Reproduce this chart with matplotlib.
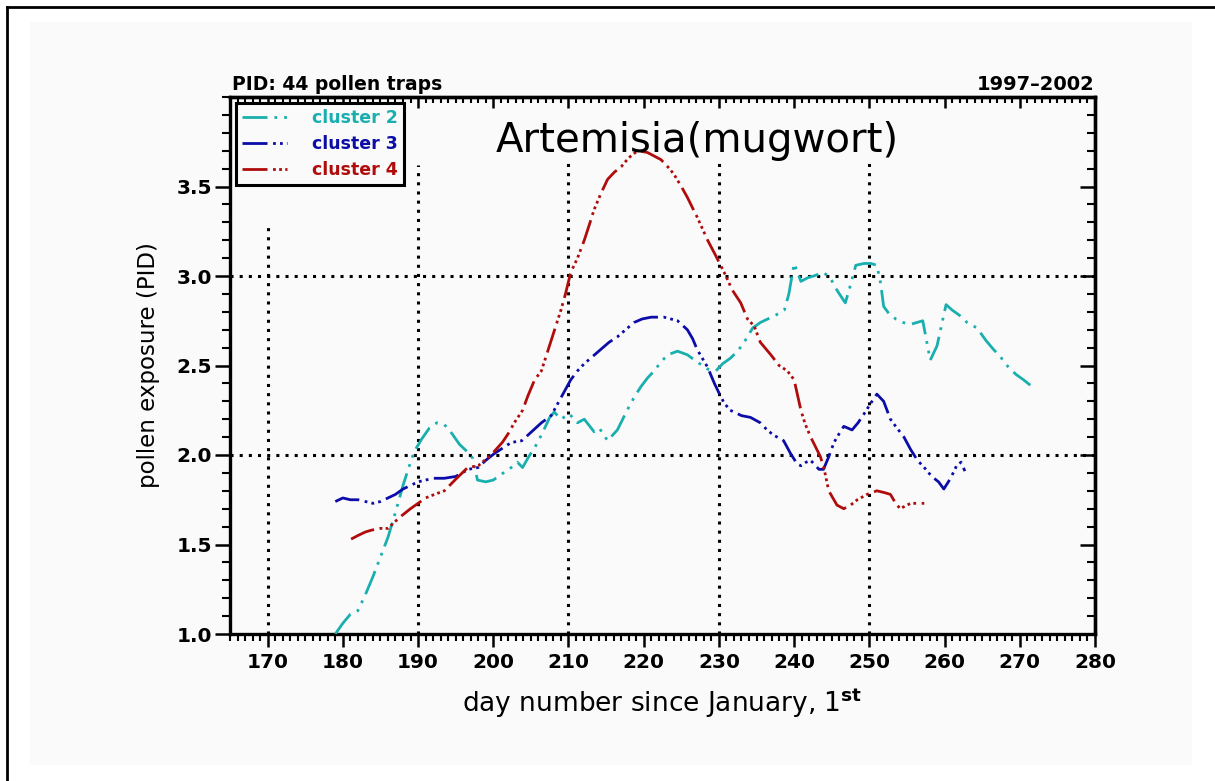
import matplotlib
matplotlib.use("Agg")
import matplotlib.pyplot as plt
from matplotlib.lines import Line2D
from matplotlib.patches import Rectangle
from matplotlib.ticker import MultipleLocator

# --- data: day number vs pollen exposure (PID) ---
days_c2 = [179.0, 180.0, 181.0, 182.0, 183.0, 184.0, 185.0, 186.0, 187.0, 188.0,
           189.0, 189.5, 190.5, 191.5, 192.5, 193.5, 194.5, 195.5, 196.5, 197.3,
           197.9, 199.0, 200.0, 201.0, 202.4, 203.2, 203.9, 204.7, 205.5, 206.5,
           207.5, 208.1, 209.0, 210.1, 211.2, 212.1, 213.4, 214.1, 215.2, 216.5,
           217.8, 218.7, 219.6, 220.5, 221.4, 222.3, 223.2, 224.5, 225.8, 227.1,
           228.5, 229.6, 230.5, 231.5, 232.5, 233.5, 234.5, 235.5, 236.5, 237.5,
           238.7, 239.3, 240.0, 240.9, 241.8, 242.6, 243.9, 244.8, 245.7, 246.8,
           247.3, 248.2, 249.3, 250.2, 251.0, 251.5, 251.9, 252.6, 253.5, 254.5,
           255.5, 256.3, 257.1, 258.1, 259.0, 260.2, 261.0, 262.0, 263.0, 264.3,
           265.5, 266.5, 267.4, 268.5, 269.5, 270.5, 271.4]
pid_c2 = [1.00, 1.06, 1.11, 1.13, 1.22, 1.32, 1.43, 1.54, 1.68, 1.83,
          1.96, 2.02, 2.09, 2.15, 2.18, 2.17, 2.12, 2.06, 2.02, 1.98,
          1.86, 1.85, 1.86, 1.89, 1.93, 1.96, 1.93, 1.99, 2.04, 2.12,
          2.21, 2.24, 2.20, 2.23, 2.18, 2.20, 2.13, 2.15, 2.08, 2.14,
          2.25, 2.32, 2.38, 2.43, 2.47, 2.52, 2.56, 2.58, 2.56, 2.52,
          2.48, 2.47, 2.51, 2.54, 2.58, 2.64, 2.71, 2.74, 2.76, 2.78,
          2.81, 2.90, 3.07, 2.97, 2.99, 3.00, 3.02, 2.99, 2.92, 2.85,
          2.92, 3.06, 3.07, 3.07, 3.06, 2.96, 2.83, 2.79, 2.76, 2.74,
          2.73, 2.74, 2.75, 2.53, 2.61, 2.84, 2.81, 2.78, 2.74, 2.71,
          2.64, 2.59, 2.55, 2.49, 2.45, 2.42, 2.39]

days_c3 = [179.0, 180.0, 181.0, 182.0, 183.0, 184.0, 185.0, 186.0, 187.0, 188.0,
           189.0, 190.0, 191.0, 192.0, 193.5, 195.0, 196.7, 198.0, 199.0, 200.2,
           201.3, 202.4, 203.8, 205.1, 206.4, 207.7, 209.0, 210.3, 211.2, 212.1,
           213.2, 214.3, 215.4, 216.5, 217.6, 218.7, 219.8, 221.0, 222.0, 222.7,
           223.6, 224.5, 225.8, 226.5, 227.1, 228.5, 229.4, 230.2, 230.7, 231.5,
           232.0, 233.0, 234.2, 235.5, 236.4, 237.3, 238.2, 238.6, 239.5, 240.4,
           240.9, 241.6, 242.2, 243.3, 243.9, 244.6, 245.3, 246.0, 246.6, 247.7,
           248.5, 249.3, 250.2, 251.0, 251.9, 252.8, 253.5, 254.6, 255.5, 256.4,
           257.3, 258.3, 259.2, 259.9, 260.8, 261.6, 262.2, 262.7]
pid_c3 = [1.74, 1.76, 1.75, 1.75, 1.74, 1.73, 1.74, 1.76, 1.78, 1.81,
          1.83, 1.85, 1.86, 1.87, 1.87, 1.88, 1.92, 1.93, 1.97, 2.01,
          2.04, 2.07, 2.08, 2.13, 2.18, 2.22, 2.32, 2.42, 2.47, 2.51,
          2.55, 2.59, 2.63, 2.66, 2.70, 2.74, 2.76, 2.77, 2.77, 2.77,
          2.76, 2.75, 2.70, 2.65, 2.59, 2.49, 2.40, 2.33, 2.29, 2.25,
          2.24, 2.22, 2.21, 2.18, 2.14, 2.11, 2.09, 2.08, 2.01, 1.95,
          1.94, 1.96, 1.97, 1.92, 1.92, 1.99, 2.07, 2.12, 2.16, 2.14,
          2.18, 2.23, 2.29, 2.34, 2.30, 2.20, 2.16, 2.10, 2.03, 1.97,
          1.93, 1.88, 1.85, 1.81, 1.87, 1.94, 1.96, 1.91]

days_c4 = [181.1, 182.0, 183.0, 183.8, 185.0, 186.0, 187.0, 187.8, 189.0, 190.0,
           191.0, 192.2, 193.5, 194.9, 196.6, 198.0, 199.7, 201.2, 202.0, 202.8,
           203.9, 204.6, 205.5, 206.4, 207.7, 209.0, 209.6, 210.3, 211.2, 212.1,
           212.8, 213.4, 214.3, 215.2, 216.1, 217.0, 218.0, 219.2, 220.5, 221.4,
           222.3, 223.2, 224.0, 225.0, 225.8, 226.5, 227.1, 228.5, 229.5, 230.7,
           231.8, 232.9, 233.8, 234.7, 235.5, 236.9, 238.0, 239.1, 240.0, 240.9,
           241.5, 242.2, 243.5, 244.0, 244.6, 245.7, 246.6, 247.5, 248.4, 249.7,
           251.0, 252.0, 252.8, 253.5, 254.1, 255.0, 255.5, 256.8, 257.3]
pid_c4 = [1.53, 1.55, 1.57, 1.58, 1.59, 1.59, 1.63, 1.66, 1.70, 1.73,
          1.76, 1.78, 1.80, 1.86, 1.93, 1.94, 2.00, 2.07, 2.12, 2.18,
          2.25, 2.33, 2.42, 2.47, 2.64, 2.81, 2.90, 3.02, 3.10, 3.20,
          3.29, 3.37, 3.46, 3.54, 3.58, 3.61, 3.66, 3.70, 3.69, 3.67,
          3.65, 3.61, 3.57, 3.50, 3.44, 3.38, 3.33, 3.20, 3.12, 3.02,
          2.92, 2.85, 2.76, 2.72, 2.63, 2.56, 2.50, 2.47, 2.42, 2.25,
          2.17, 2.10, 1.99, 1.92, 1.80, 1.72, 1.70, 1.72, 1.75, 1.78,
          1.80, 1.79, 1.78, 1.73, 1.70, 1.72, 1.73, 1.73, 1.73]

labels = ['cluster 2', 'cluster 3', 'cluster 4']
colors = ['#1aafaf', '#0c0ca8', '#b00c0c']

# dotted guide lines (day, top of line)
vgrid_days = [170, 190, 210, 230, 250]
vgrid_tops = [3.28, 3.62, 3.65, 3.65, 3.65]
hgrid_vals = [2.0, 3.0]

# ---------------------------------------------------------------------
fig = plt.figure(figsize=(12.15, 7.81), dpi=100, facecolor='white')

# light panel + black frame lines (left and top edges)
fig.add_artist(Rectangle((30 / 1215, 1 - 765 / 781), 1162 / 1215, 743 / 781,
                         transform=fig.transFigure, facecolor='#fafafa',
                         edgecolor='none', zorder=0))
fig.add_artist(Line2D([7 / 1215, 7 / 1215], [0, 1 - 7 / 781],
                      transform=fig.transFigure, color='black', lw=2))
fig.add_artist(Line2D([7 / 1215, 1], [1 - 7 / 781, 1 - 7 / 781],
                      transform=fig.transFigure, color='black', lw=2))

ax = fig.add_axes([230 / 1215, 1 - 634 / 781, 865 / 1215, 537 / 781])
ax.set_facecolor('none')

ax.set_xlim(165, 280)
ax.set_ylim(1.0, 4.0)

# grid
for d, top in zip(vgrid_days, vgrid_tops):
    ax.plot([d, d], [1.0, top], color='black', lw=2.2, ls=(0, (1, 2)), zorder=1)
for v in hgrid_vals:
    ax.axhline(v, color='black', lw=2.2, ls=(0, (1, 2)), zorder=1)

# curves
styles = [(0, (9, 2.5, 1, 2.5, 1, 2.5)),
          (0, (9, 2, 1, 1.5, 1, 1.5, 1, 2)),
          (0, (9, 2, 1, 1.2, 1, 1.2, 1, 1.2, 1, 2))]
series = [(days_c2, pid_c2), (days_c3, pid_c3), (days_c4, pid_c4)]
for (x, y), lab, c, ls in zip(series, labels, colors, styles):
    ax.plot(x, y, color=c, lw=2.0, ls=ls, label=lab, zorder=3)

# axes formatting (IDL look)
for sp in ax.spines.values():
    sp.set_linewidth(2.4)
ax.xaxis.set_major_locator(MultipleLocator(10))
ax.xaxis.set_minor_locator(MultipleLocator(1))
ax.yaxis.set_major_locator(MultipleLocator(0.5))
ax.yaxis.set_minor_locator(MultipleLocator(0.1))
ax.set_yticks([1.0, 1.5, 2.0, 2.5, 3.0, 3.5])
ax.set_yticklabels(['1.0', '1.5', '2.0', '2.5', '3.0', '3.5'])
ax.tick_params(axis='x', which='major', direction='out', length=9, width=1.8,
               labelsize=14.5, pad=5)
ax.tick_params(axis='x', which='minor', direction='out', length=5, width=1.5)
ax.tick_params(axis='y', which='major', direction='out', length=11, width=1.8,
               labelsize=14.5, pad=2)
ax.tick_params(axis='y', which='minor', direction='out', length=6, width=1.5)
for t in ax.get_xticklabels() + ax.get_yticklabels():
    t.set_fontweight('bold')

# inward ticks on top and right
top = ax.secondary_xaxis('top')
top.xaxis.set_major_locator(MultipleLocator(10))
top.xaxis.set_minor_locator(MultipleLocator(1))
top.tick_params(which='major', direction='in', length=8, width=1.8, labeltop=False)
top.tick_params(which='minor', direction='in', length=4, width=1.5)
top.spines['top'].set_linewidth(2.4)
right = ax.secondary_yaxis('right')
right.yaxis.set_major_locator(MultipleLocator(0.5))
right.yaxis.set_minor_locator(MultipleLocator(0.1))
right.tick_params(which='major', direction='in', length=11, width=1.8, labelright=False)
right.tick_params(which='minor', direction='in', length=6, width=1.5)
right.spines['right'].set_linewidth(2.4)

ax.set_xlabel(r'day number since January, 1$^{\mathbf{st}}$', fontsize=19, labelpad=10)
ax.set_ylabel('pollen exposure (PID)', fontsize=16.5, labelpad=12)

ax.text(0.54, 0.955, 'Artemisia(mugwort)', transform=ax.transAxes,
        ha='center', va='top', fontsize=29)
ax.text(0.002, 1.006, 'PID: 44 pollen traps', transform=ax.transAxes,
        ha='left', va='bottom', fontsize=13.5, fontweight='bold')
ax.text(1.0, 1.006, '1997\u20132002', transform=ax.transAxes,
        ha='right', va='bottom', fontsize=14, fontweight='bold')

leg = ax.legend(loc='upper left', fancybox=False, edgecolor='black', framealpha=1,
                labelcolor='linecolor', handlelength=2.6, handletextpad=1.4,
                borderaxespad=0.35, borderpad=0.35, labelspacing=0.45,
                prop={'weight': 'bold', 'size': 12.5})
leg.get_frame().set_linewidth(2.2)
leg.get_frame().set_facecolor('#fafafa')

fig.savefig('out.png', dpi=100, facecolor='white')
